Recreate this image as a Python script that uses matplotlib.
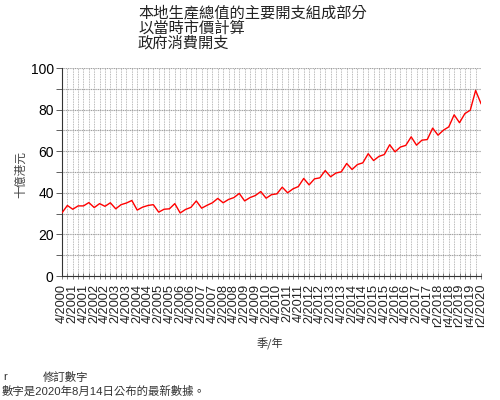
import matplotlib
matplotlib.use("Agg")
import matplotlib.pyplot as plt
from matplotlib.ticker import MultipleLocator, FixedLocator

# Quarterly labels (every second quarter shown)
tick_labels = ["4/2000", "2/2001", "4/2001", "2/2002", "4/2002", "2/2003", "4/2003",
               "2/2004", "4/2004", "2/2005", "4/2005", "2/2006", "4/2006", "2/2007",
               "4/2007", "2/2008", "4/2008", "2/2009", "4/2009", "2/2010", "4/2010",
               "2/2011", "4/2011", "2/2012", "4/2012", "2/2013", "4/2013", "2/2014",
               "4/2014", "2/2015", "4/2015", "2/2016", "4/2016", "2/2017", "4/2017",
               "r2/2018", "r4/2018", "r2/2019", "r4/2019", "r2/2020"]

# Government consumption expenditure, HK$ billion, Q4 2000 .. Q2 2020
values = [30.4, 33.9, 32.1, 33.7, 33.7, 35.3, 32.9, 34.8, 33.5, 35.2,
          32.3, 34.3, 35.1, 36.3, 31.7, 33.1, 33.9, 34.3, 30.7, 32.1,
          32.3, 34.8, 30.3, 32.0, 33.0, 36.1, 32.6, 34.0, 35.2, 37.3,
          35.2, 36.8, 37.7, 39.7, 36.1, 37.7, 38.7, 40.6, 37.4, 39.1,
          39.5, 42.7, 40.0, 41.9, 43.0, 46.9, 43.8, 46.7, 47.2, 50.7,
          47.7, 49.5, 50.1, 54.1, 51.2, 53.6, 54.4, 58.8, 55.5, 57.5,
          58.4, 63.1, 59.7, 62.0, 62.8, 66.9, 62.9, 65.3, 65.6, 71.1,
          67.7, 70.1, 71.7, 77.5, 73.7, 78.1, 79.7, 89.2, 82.9]

title_lines = ["本地生產總值的主要開支組成部分", "以當時市價計算", "政府消費開支"]
y_label = "十億港元"
x_label = "季/年"
note1_mark = "r"
note1_text = "修訂數字"
note2 = "數字是2020年8月14日公布的最新數據。"

CJK = ["Noto Sans CJK TC", "DejaVu Sans"]
MIX = ["Liberation Sans", "Noto Sans CJK TC"]

fig = plt.figure(figsize=(5, 4), dpi=100)
W, H = 500, 400
ax = fig.add_axes([62 / W, 1 - 276 / H, (481 - 62) / W, (276 - 68) / H])

x = list(range(len(values)))
ax.plot(x, values, color="#ff0000", linewidth=1.0, zorder=3)

ax.set_xlim(0, len(values) - 1)
ax.set_ylim(0, 100)

ax.yaxis.set_major_locator(MultipleLocator(20))
ax.yaxis.set_minor_locator(MultipleLocator(10))
ax.set_xticks(list(range(0, len(values), 2)))
ax.set_xticklabels(tick_labels, rotation=90, fontsize=9.2, family="Liberation Sans",
                   color="#222222")
ax.xaxis.set_minor_locator(FixedLocator(x))
for lab in ax.get_yticklabels():
    lab.set_family("Liberation Sans")
ax.tick_params(axis="y", which="both", direction="out", length=4, width=0.6,
               labelsize=10, pad=2, color="#444444")
ax.tick_params(axis="x", which="both", direction="inout", length=5, width=0.5,
               pad=3, color="#555555")

ax.grid(True, which="both", axis="x", color="#a3a3a3", linestyle=(0, (1, 1)), linewidth=0.6)
ax.grid(True, which="both", axis="y", color="#a0a0a0", linestyle=(0, (1, 0.6)), linewidth=0.8)
ax.set_axisbelow(True)

for s in ["top", "right"]:
    ax.spines[s].set_visible(False)
ax.spines["left"].set_linewidth(0.8)
ax.spines["bottom"].set_linewidth(0.8)
ax.spines["left"].set_color("#333333")
ax.spines["bottom"].set_color("#333333")

# Title
for i, t in enumerate(title_lines):
    fig.text(138 / W, 1 - (4 + i * 15.3) / H, t, family=CJK, fontsize=11,
             va="top", ha="left", color="#222222")

fig.text(21 / W, 1 - 175 / H, y_label, family=CJK, fontsize=8.5, rotation=90,
         va="center", ha="center", color="#444444")
fig.text(270 / W, 1 - 344 / H, x_label, family=CJK, fontsize=8,
         va="center", ha="center", color="#333333")
fig.text(3 / W, 1 - 377 / H, note1_mark, family=MIX, fontsize=8.2,
         va="center", ha="left", color="#333333")
fig.text(43 / W, 1 - 377 / H, note1_text, family=CJK, fontsize=8.2,
         va="center", ha="left", color="#333333")
fig.text(2 / W, 1 - 391 / H, note2, family=MIX, fontsize=8.2,
         va="center", ha="left", color="#333333")

fig.savefig("out.png", dpi=100)
